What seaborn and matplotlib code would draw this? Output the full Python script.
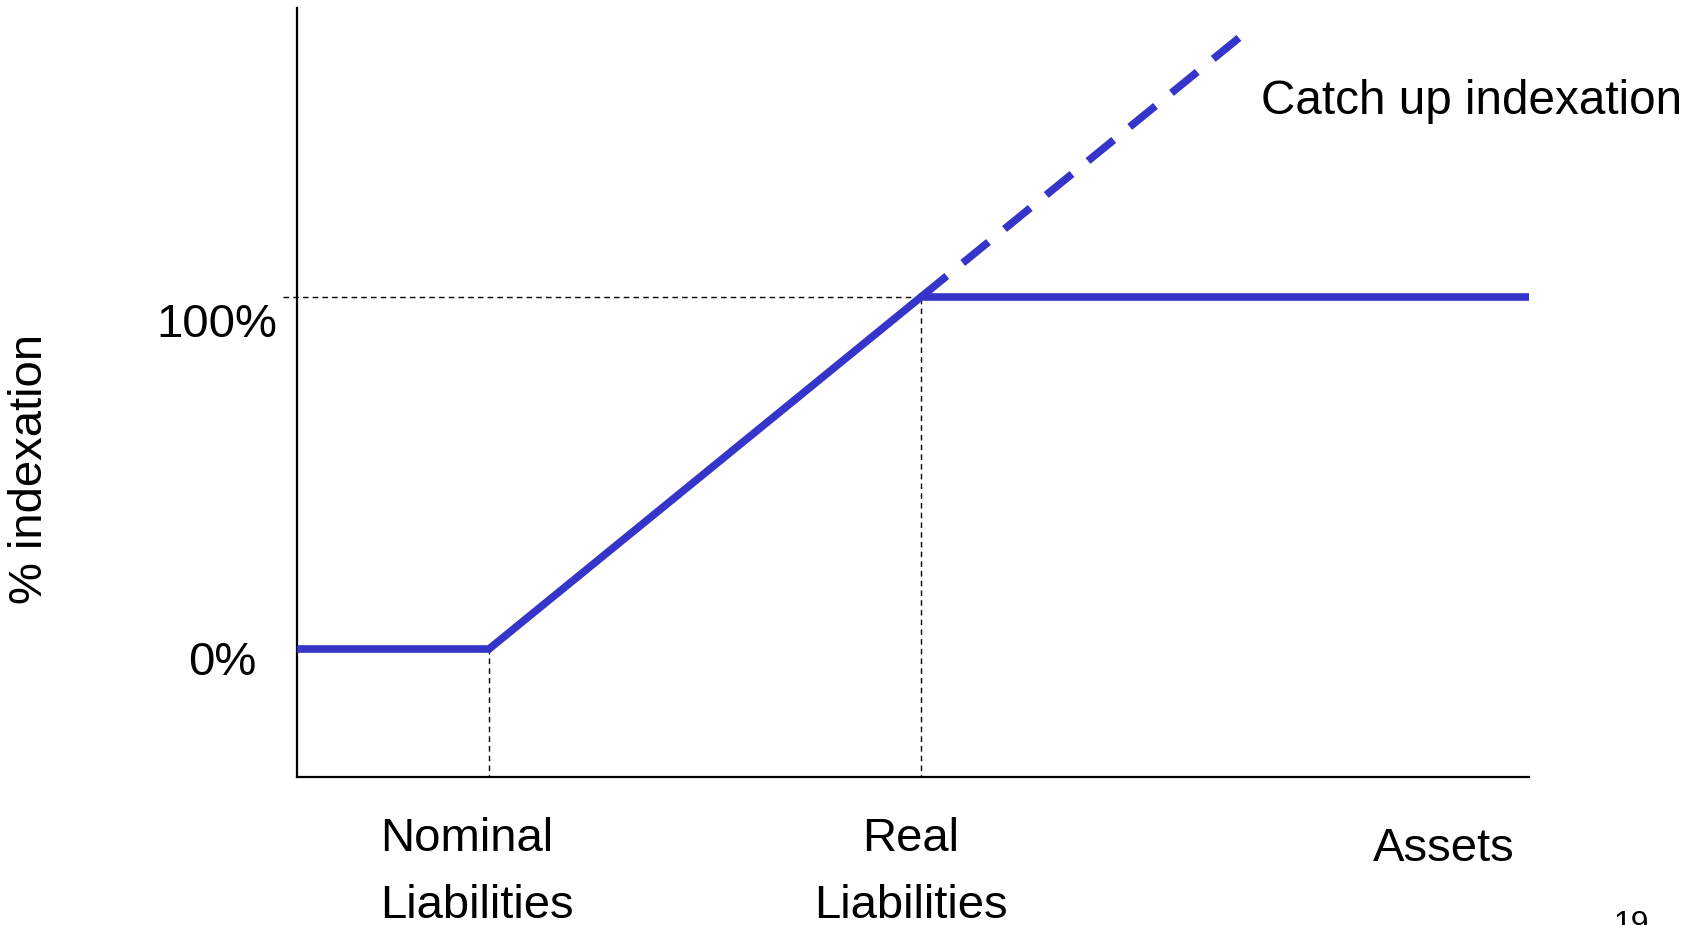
import matplotlib
matplotlib.use("Agg")
import matplotlib.pyplot as plt
import seaborn as sns
import pandas as pd

# Indexation policy as a function of assets (liability levels = 100 / 200)
nominal_liabilities = 100
real_liabilities = 200
asset_range = [55.56, 340.74]

policy_assets = [asset_range[0], nominal_liabilities, real_liabilities, asset_range[1]]
policy_indexation = [0, 0, 100, 100]

catchup_assets = [real_liabilities, 273.6]
catchup_indexation = [100, 173.6]

y_labels = ["0%", "100%"]

BLUE = "#3535C9"
W, H = 1704, 925

sns.set_theme(style="white")
plt.rcParams["font.family"] = ["Liberation Sans", "DejaVu Sans"]

fig = plt.figure(figsize=(W / 100, H / 100), dpi=100)
ax = fig.add_axes([297 / W, 1 - 777 / H, (1529 - 297) / W, (777 - 8) / H])

policy = pd.DataFrame({"assets": policy_assets, "indexation": policy_indexation})
catchup = pd.DataFrame({"assets": catchup_assets, "indexation": catchup_indexation})

# Guide lines at the liability levels
ax.plot([asset_range[0] - 3.3, real_liabilities], [100, 100], color="black",
        lw=1.0, dashes=(4, 3), clip_on=False, zorder=1)
ax.plot([real_liabilities, real_liabilities], [-40, 100], color="black",
        lw=1.0, dashes=(4, 3), zorder=1)
ax.plot([nominal_liabilities, nominal_liabilities], [-40, 0], color="black",
        lw=1.0, dashes=(4, 3), zorder=1)

sns.lineplot(data=policy, x="assets", y="indexation", color=BLUE, lw=5.5,
             ax=ax, zorder=3, solid_capstyle="butt", solid_joinstyle="miter")
sns.lineplot(data=catchup, x="assets", y="indexation", color=BLUE, lw=5.5,
             ax=ax, zorder=3, dashes=False)
ax.lines[-1].set_dashes((4.35, 2.7))
ax.lines[-1].set_dash_capstyle("butt")
ax.lines[-1].set_clip_on(False)

ax.set_xlim(asset_range)
ax.set_ylim(-36.36, 182.1)
ax.set_xticks([])
ax.set_yticks([])
ax.set_xlabel("")
ax.set_ylabel("")
for s in ["top", "right"]:
    ax.spines[s].set_visible(False)
for s in ["left", "bottom"]:
    ax.spines[s].set_color("black")
    ax.spines[s].set_linewidth(1.6)


def ftext(x, y, s, **kw):
    kw.setdefault("fontsize", 34)
    kw.setdefault("color", "black")
    fig.text(x / W, 1 - y / H, s, **kw)


ftext(277, 337, y_labels[1], ha="right", va="baseline")
ftext(256, 675, y_labels[0], ha="right", va="baseline")
ftext(380, 851, "Nominal", ha="left", va="baseline")
ftext(380, 918, "Liabilities", ha="left", va="baseline")
ftext(911, 851, "Real", ha="center", va="baseline")
ftext(911, 918, "Liabilities", ha="center", va="baseline")
ftext(1444, 861, "Assets", ha="center", va="baseline")
ftext(1261, 114, "Catch up indexation", ha="left", va="baseline", fontsize=34.3)
ftext(52, 469, "% indexation", ha="right", va="center", rotation=90)
ftext(1614, 910, "19", ha="left", va="top", fontsize=23)

fig.savefig("out.png", dpi=100)
